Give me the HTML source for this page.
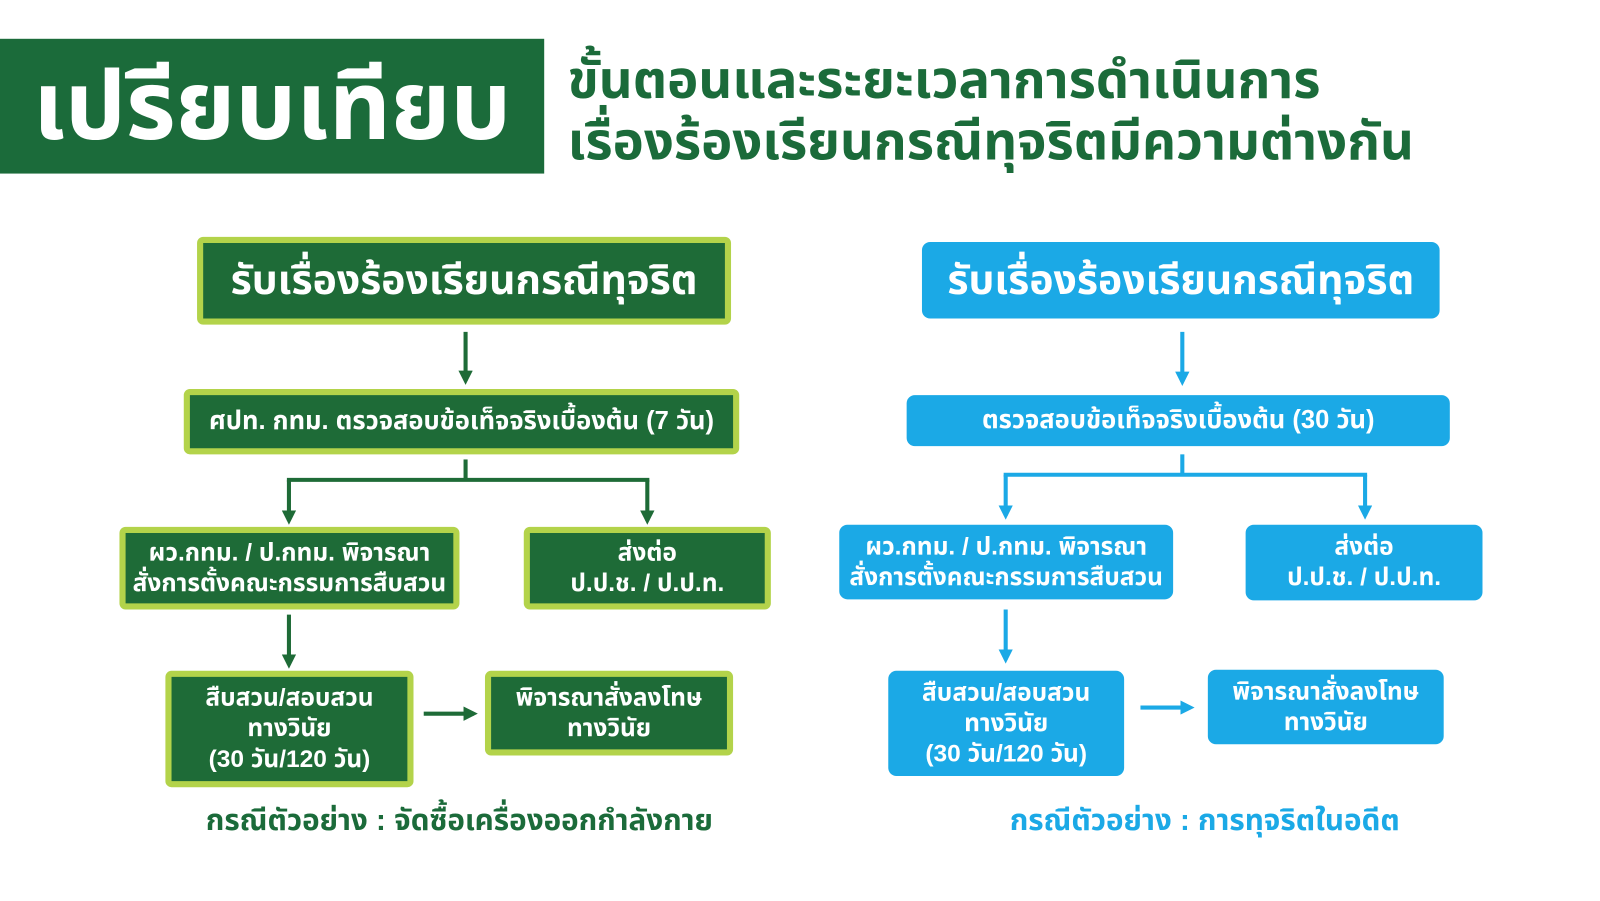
<!DOCTYPE html>
<html><head><meta charset="utf-8">
<style>
*{margin:0;padding:0;box-sizing:border-box}
html,body{width:1600px;height:900px;overflow:hidden;background:#fff}
#w{position:absolute;left:0;top:0;width:1570px;height:882px;transform:scale(1.021);transform-origin:0 0;font-family:"Liberation Sans","Noto Sans Thai","Loma","Garuda",sans-serif;font-weight:bold}
.a{position:absolute}
.b{position:absolute;display:flex;align-items:center;justify-content:center;text-align:center;color:#fff;line-height:1.25;white-space:nowrap}
.g{background:#1e6b37;border:6px solid #b3d34a;border-radius:6px}
.u{background:#1ba9e6;border-radius:8px}
</style></head><body><div id="w">
<div class="b" style="left:0;top:38px;width:533px;height:132px;background:#1b6b3a;font-size:94px;">เปรียบเทียบ</div>
<div class="a" style="left:556px;top:48px;color:#1b6b3a;font-size:51.5px;line-height:60px;white-space:nowrap">ขั้นตอนและระยะเวลาการดำเนินการ<br>เรื่องร้องเรียนกรณีทุจริตมีความต่างกัน</div>

<div class="b g" style="left:193px;top:232px;width:523px;height:86px;font-size:40px;">รับเรื่องร้องเรียนกรณีทุจริต</div>
<div class="b g" style="left:180px;top:381px;width:544px;height:64px;font-size:25px;">ศปท. กทม. ตรวจสอบข้อเท็จจริงเบื้องต้น (7 วัน)</div>
<div class="b g" style="left:117px;top:516px;width:333px;height:81px;font-size:24px;">ผว.กทม. / ป.กทม. พิจารณา<br>สั่งการตั้งคณะกรรมการสืบสวน</div>
<div class="b g" style="left:513px;top:516px;width:242px;height:81px;font-size:24px;">ส่งต่อ<br>ป.ป.ช. / ป.ป.ท.</div>
<div class="b g" style="left:162px;top:657px;width:243px;height:114px;font-size:24px;">สืบสวน/สอบสวน<br>ทางวินัย<br>(30 วัน/120 วัน)</div>
<div class="b g" style="left:475px;top:657px;width:243px;height:83px;font-size:24px;">พิจารณาสั่งลงโทษ<br>ทางวินัย</div>
<div class="a" style="left:150px;width:600px;top:783px;text-align:center;color:#1b6b3a;font-size:29px;white-space:nowrap">กรณีตัวอย่าง : จัดซื้อเครื่องออกกำลังกาย</div>

<div class="b u" style="left:903px;top:237px;width:507px;height:75px;font-size:40px;">รับเรื่องร้องเรียนกรณีทุจริต</div>
<div class="b u" style="left:888px;top:387px;width:532px;height:50px;font-size:25px;">ตรวจสอบข้อเท็จจริงเบื้องต้น (30 วัน)</div>
<div class="b u" style="left:822px;top:514px;width:327px;height:73px;font-size:24px;">ผว.กทม. / ป.กทม. พิจารณา<br>สั่งการตั้งคณะกรรมการสืบสวน</div>
<div class="b u" style="left:1220px;top:514px;width:232px;height:74px;font-size:24px;">ส่งต่อ<br>ป.ป.ช. / ป.ป.ท.</div>
<div class="b u" style="left:870px;top:657px;width:231px;height:103px;font-size:24px;">สืบสวน/สอบสวน<br>ทางวินัย<br>(30 วัน/120 วัน)</div>
<div class="b u" style="left:1183px;top:656px;width:231px;height:73px;font-size:24px;">พิจารณาสั่งลงโทษ<br>ทางวินัย</div>
<div class="a" style="left:880px;width:600px;top:783px;text-align:center;color:#1ba9e6;font-size:29px;white-space:nowrap">กรณีตัวอย่าง : การทุจริตในอดีต</div>

<svg class="a" style="left:0;top:0" width="1570" height="882">
<defs>
<marker id="mg" markerWidth="14" markerHeight="14" refX="10" refY="7" orient="auto" markerUnits="userSpaceOnUse"><path d="M0,0 L14,7 L0,14z" fill="#1e6b37"/></marker>
<marker id="mb" markerWidth="14" markerHeight="14" refX="10" refY="7" orient="auto" markerUnits="userSpaceOnUse"><path d="M0,0 L14,7 L0,14z" fill="#1ba9e6"/></marker>
</defs>
<g stroke="#1e6b37" stroke-width="4" fill="none">
<line x1="456" y1="325" x2="456" y2="373" marker-end="url(#mg)"/>
<polyline points="456,450 456,470"/>
<line x1="281" y1="470" x2="636" y2="470"/>
<line x1="283" y1="470" x2="283" y2="510" marker-end="url(#mg)"/>
<line x1="634" y1="470" x2="634" y2="510" marker-end="url(#mg)"/>
<line x1="283" y1="602" x2="283" y2="651" marker-end="url(#mg)"/>
<line x1="415" y1="699" x2="464" y2="699" marker-end="url(#mg)"/>
</g>
<g stroke="#1ba9e6" stroke-width="4" fill="none">
<line x1="1158" y1="325" x2="1158" y2="374" marker-end="url(#mb)"/>
<line x1="1158" y1="445" x2="1158" y2="465"/>
<line x1="983" y1="465" x2="1339" y2="465"/>
<line x1="985" y1="465" x2="985" y2="505" marker-end="url(#mb)"/>
<line x1="1337" y1="465" x2="1337" y2="505" marker-end="url(#mb)"/>
<line x1="985" y1="597" x2="985" y2="646" marker-end="url(#mb)"/>
<line x1="1117" y1="693" x2="1166" y2="693" marker-end="url(#mb)"/>
</g>
</svg>
</div></body></html>
